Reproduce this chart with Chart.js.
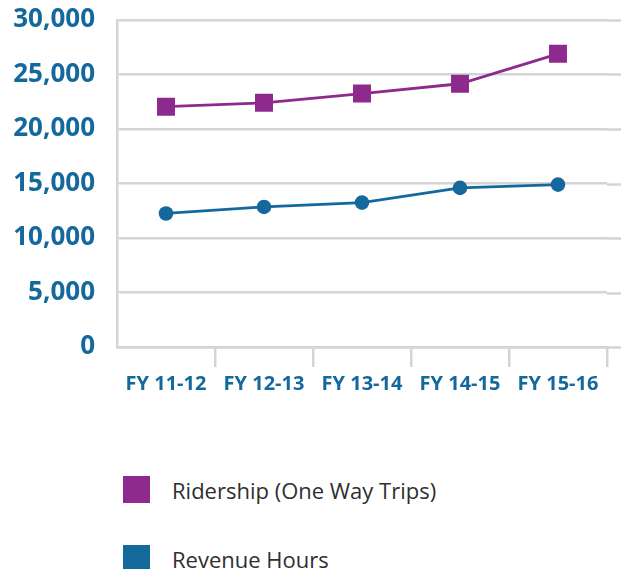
<!DOCTYPE html>
<html>
<head>
<meta charset="utf-8">
<script src="https://cdn.jsdelivr.net/npm/chart.js@4.4.1/dist/chart.umd.min.js"></script>
<style>
  html, body { margin: 0; padding: 0; background: #fff; }
  #wrap { position: relative; width: 621px; height: 569px; overflow: hidden; }
  #chartBox { position: absolute; left: 0; top: 0; width: 621px; height: 400px; }
  #legend { position: absolute; left: 123px; top: 476px; font-family: 'Open Sans', sans-serif; }
  .lg-item { display: flex; align-items: center; height: 27px; margin-bottom: 42px; }
  .lg-box { width: 27px; height: 27px; margin-right: 22px; flex: none; }
  .lg-text { font-size: 22px; color: #2f2f2f; white-space: nowrap; }
</style>
</head>
<body>
<div id="wrap">
  <div id="chartBox"><canvas id="trend"></canvas></div>
  <div id="legend"></div>
</div>
<script>
// ─── Ridership vs revenue hours by fiscal year ─────────────────────────────
const YEARS         = ['FY 11-12', 'FY 12-13', 'FY 13-14', 'FY 14-15', 'FY 15-16'];
const RIDERSHIP     = [22050, 22400, 23250, 24150, 26900];
const REVENUE_HOURS = [12250, 12850, 13250, 14600, 14900];
const Y_TICKS       = [0, 5000, 10000, 15000, 20000, 25000, 30000];

const PURPLE = '#8e2a8e';
const BLUE   = '#15689b';
const GRID   = '#d4d4d4';
const FONT   = "'Open Sans', sans-serif";

// horizontal grid runs a little past the last category boundary
const extendGrid = {
  id: 'extendGrid',
  beforeDatasetsDraw(chart) {
    const { ctx, chartArea, scales: { y } } = chart;
    ctx.save();
    ctx.strokeStyle = GRID;
    ctx.lineWidth = 2.5;
    y.ticks.forEach(t => {
      const py = Math.round(y.getPixelForValue(t.value)) + 0.5;
      ctx.beginPath();
      ctx.moveTo(chartArea.right, py);
      ctx.lineTo(chart.width, py);
      ctx.stroke();
    });
    ctx.restore();
  },
};

const chart = new Chart(document.getElementById('trend').getContext('2d'), {
  type: 'line',
  data: {
    labels: YEARS,
    datasets: [
      {
        label: 'Ridership (One Way Trips)', data: RIDERSHIP,
        borderColor: PURPLE, backgroundColor: PURPLE, borderWidth: 2.8,
        pointStyle: 'rect', pointRadius: 12.7, pointBorderWidth: 0, tension: 0,
      },
      {
        label: 'Revenue Hours', data: REVENUE_HOURS,
        borderColor: BLUE, backgroundColor: BLUE, borderWidth: 2.8,
        pointStyle: 'circle', pointRadius: 7.3, pointBorderWidth: 0, tension: 0,
      },
    ],
  },
  options: {
    responsive: true, maintainAspectRatio: false, animation: false,
    layout: { padding: { top: 20, right: 14, left: 0, bottom: 0 } },
    plugins: { legend: { display: false }, tooltip: { enabled: false } },
    scales: {
      x: {
        offset: true,
        grid: {
          offset: true, drawOnChartArea: false, tickLength: 20, lineWidth: 2.5,
          color: c => (c.index === 0 ? 'rgba(0,0,0,0)' : GRID),
        },
        border: { color: GRID, width: 2.5 },
        ticks: { color: BLUE, padding: 5, maxRotation: 0, font: { family: FONT, size: 20, weight: 'bold' } },
        afterFit: s => { s.height = 53; s.paddingLeft = 0; s.paddingRight = 0; },
      },
      y: {
        min: 0, max: 30000,
        afterBuildTicks: s => { s.ticks = Y_TICKS.map(v => ({ value: v })); },
        grid: { color: GRID, lineWidth: 2.5, drawTicks: false },
        border: { color: GRID, width: 2.5 },
        ticks: {
          color: BLUE, padding: 22,
          font: { family: FONT, size: 26, weight: 'bold' },
          callback: v => v.toLocaleString('en-US'),
        },
        afterFit: s => { s.width = 117; s.paddingTop = 0; s.paddingBottom = 0; },
      },
    },
  },
  plugins: [extendGrid],
});

// legend stacked below the plot, built from the datasets
document.getElementById('legend').innerHTML = chart.data.datasets.map(ds => `
  <div class="lg-item">
    <div class="lg-box" style="background:${ds.borderColor}"></div>
    <span class="lg-text">${ds.label}</span>
  </div>`).join('');
</script>
</body>
</html>
